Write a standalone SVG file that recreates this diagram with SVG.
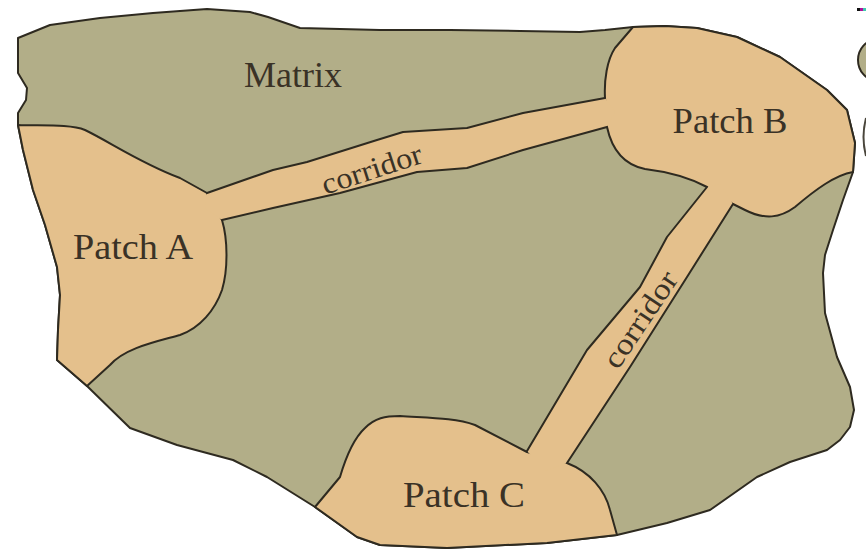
<svg xmlns="http://www.w3.org/2000/svg" width="866" height="553" viewBox="0 0 866 553">
<style>
.matrix{fill:#B2AE88;stroke:#2e2a20;stroke-width:2;stroke-linejoin:round}
.patch{fill:#E4C08C;stroke:#2e2a20;stroke-width:2;stroke-linejoin:round}
.cfill{fill:#E4C08C;stroke:none}
.edge{fill:none;stroke:#2e2a20;stroke-width:2;stroke-linejoin:round;stroke-linecap:round}
.lbl{font-family:"Liberation Serif","DejaVu Serif",serif;fill:#3a3226;text-anchor:middle}
</style>
<rect width="866" height="553" fill="#ffffff"/>
<g id="matrix">
<path class="matrix" d="M18,38 L50,25 L100,18 L153,13 L207,9 L250,12 L268,17 L300,28 L380,30 L450,30 L520,31 L580,32 L605,30 L633,27 L665,26 L697,28 L737,37 L780,57 L827,90 L847,110 L855,143 L853,172 L843,200 L833,230 L825,255 L823,273 L825,313 L837,357 L850,387 L854,410 L850,427 L840,440 L827,450 L790,462 L757,477 L710,510 L667,523 L617,535 L547,543 L447,548 L380,545 L357,537 L315,507 L267,477 L233,460 L177,445 L130,428 L87,386 L57,360 L58,330 L60,295 L57,267 L45,225 L33,190 L23,150 L18,125 L18,113 L26,100 L27,88 L18,73 Z"/>
<text class="lbl" x="293" y="87" font-size="35" textLength="98" lengthAdjust="spacingAndGlyphs">Matrix</text>
</g>
<g id="patch-a">
<path class="patch" d="M18,125 C40,126 70,124 85,130 C110,142 140,163 180,178 L207,193 L222,220 C228,240 228,270 222,290 C215,310 200,328 180,335 C155,342 125,348 110,365 L87,386 L57,360 L58,330 L60,295 L57,267 L45,225 L33,190 L23,150 Z"/>
<text class="lbl" x="133" y="259" font-size="35" textLength="120" lengthAdjust="spacingAndGlyphs">Patch A</text>
</g>
<g id="patch-b">
<path class="patch" d="M633,27 L665,26 L697,28 L737,37 L780,57 L827,90 L847,110 L855,143 L853,172 C835,175 815,190 795,207 C780,218 765,220 745,210 L733,204 L707,187 C690,178 670,172 645,169 C625,165 612,150 607,127 L605,98 C604,80 607,60 615,48 Z"/>
<text class="lbl" x="730" y="133" font-size="35" textLength="115" lengthAdjust="spacingAndGlyphs">Patch B</text>
</g>
<g id="patch-c">
<path class="patch" d="M315,507 L340,477 C345,460 352,440 365,428 C375,418 385,416 400,416 C430,418 455,418 475,425 L527,452 L567,463 C590,472 605,490 610,510 L617,535 L547,543 L447,548 L380,545 L357,537 Z"/>
<text class="lbl" x="464" y="507" font-size="35" textLength="122" lengthAdjust="spacingAndGlyphs">Patch C</text>
</g>
<g id="connectors">
<g id="corridor-ab">
<path class="cfill" d="M207,193 L273,170 L307,162 L377,140 L403,132 L467,128 L523,113 L605,98 L615,112 L607,127 L523,150 L467,168 L417,172 L340,193 L273,208 L222,220 L205,208 Z"/>
<path class="edge" d="M207,193 L273,170 L307,162 L377,140 L403,132 L467,128 L523,113 L605,98"/>
<path class="edge" d="M222,220 L273,208 L340,193 L417,172 L467,168 L523,150 L607,127"/>
<text class="lbl" font-size="30" transform="translate(372,170) rotate(-18)" x="0" y="9" textLength="104" lengthAdjust="spacingAndGlyphs">corridor</text>
</g>
<g id="corridor-bc">
<path class="cfill" d="M707,187 L720,184 L733,204 L687,277 L630,367 L567,463 L545,471 L527,451 L587,350 L640,287 L667,237 Z"/>
<path class="edge" d="M707,187 L667,237 L640,287 L587,350 L527,451"/>
<path class="edge" d="M733,204 L687,277 L630,367 L567,463"/>
<text class="lbl" font-size="30" transform="translate(641,320) rotate(-56)" x="0" y="9" textLength="110" lengthAdjust="spacingAndGlyphs">corridor</text>
</g>
</g>
<g id="edge-fragments">
<rect x="857" y="8" width="3" height="3" fill="#111111"/>
<rect x="860" y="8" width="3" height="3" fill="#b0109a"/>
<rect x="863" y="8" width="3" height="3" fill="#40c8b0"/>
<ellipse cx="876" cy="60" rx="18" ry="20" fill="#B2AE88" stroke="#2e2a20" stroke-width="2"/>
<path d="M866,118 Q861,137 866,156" fill="none" stroke="#4a463c" stroke-width="2"/>
</g>
</svg>
